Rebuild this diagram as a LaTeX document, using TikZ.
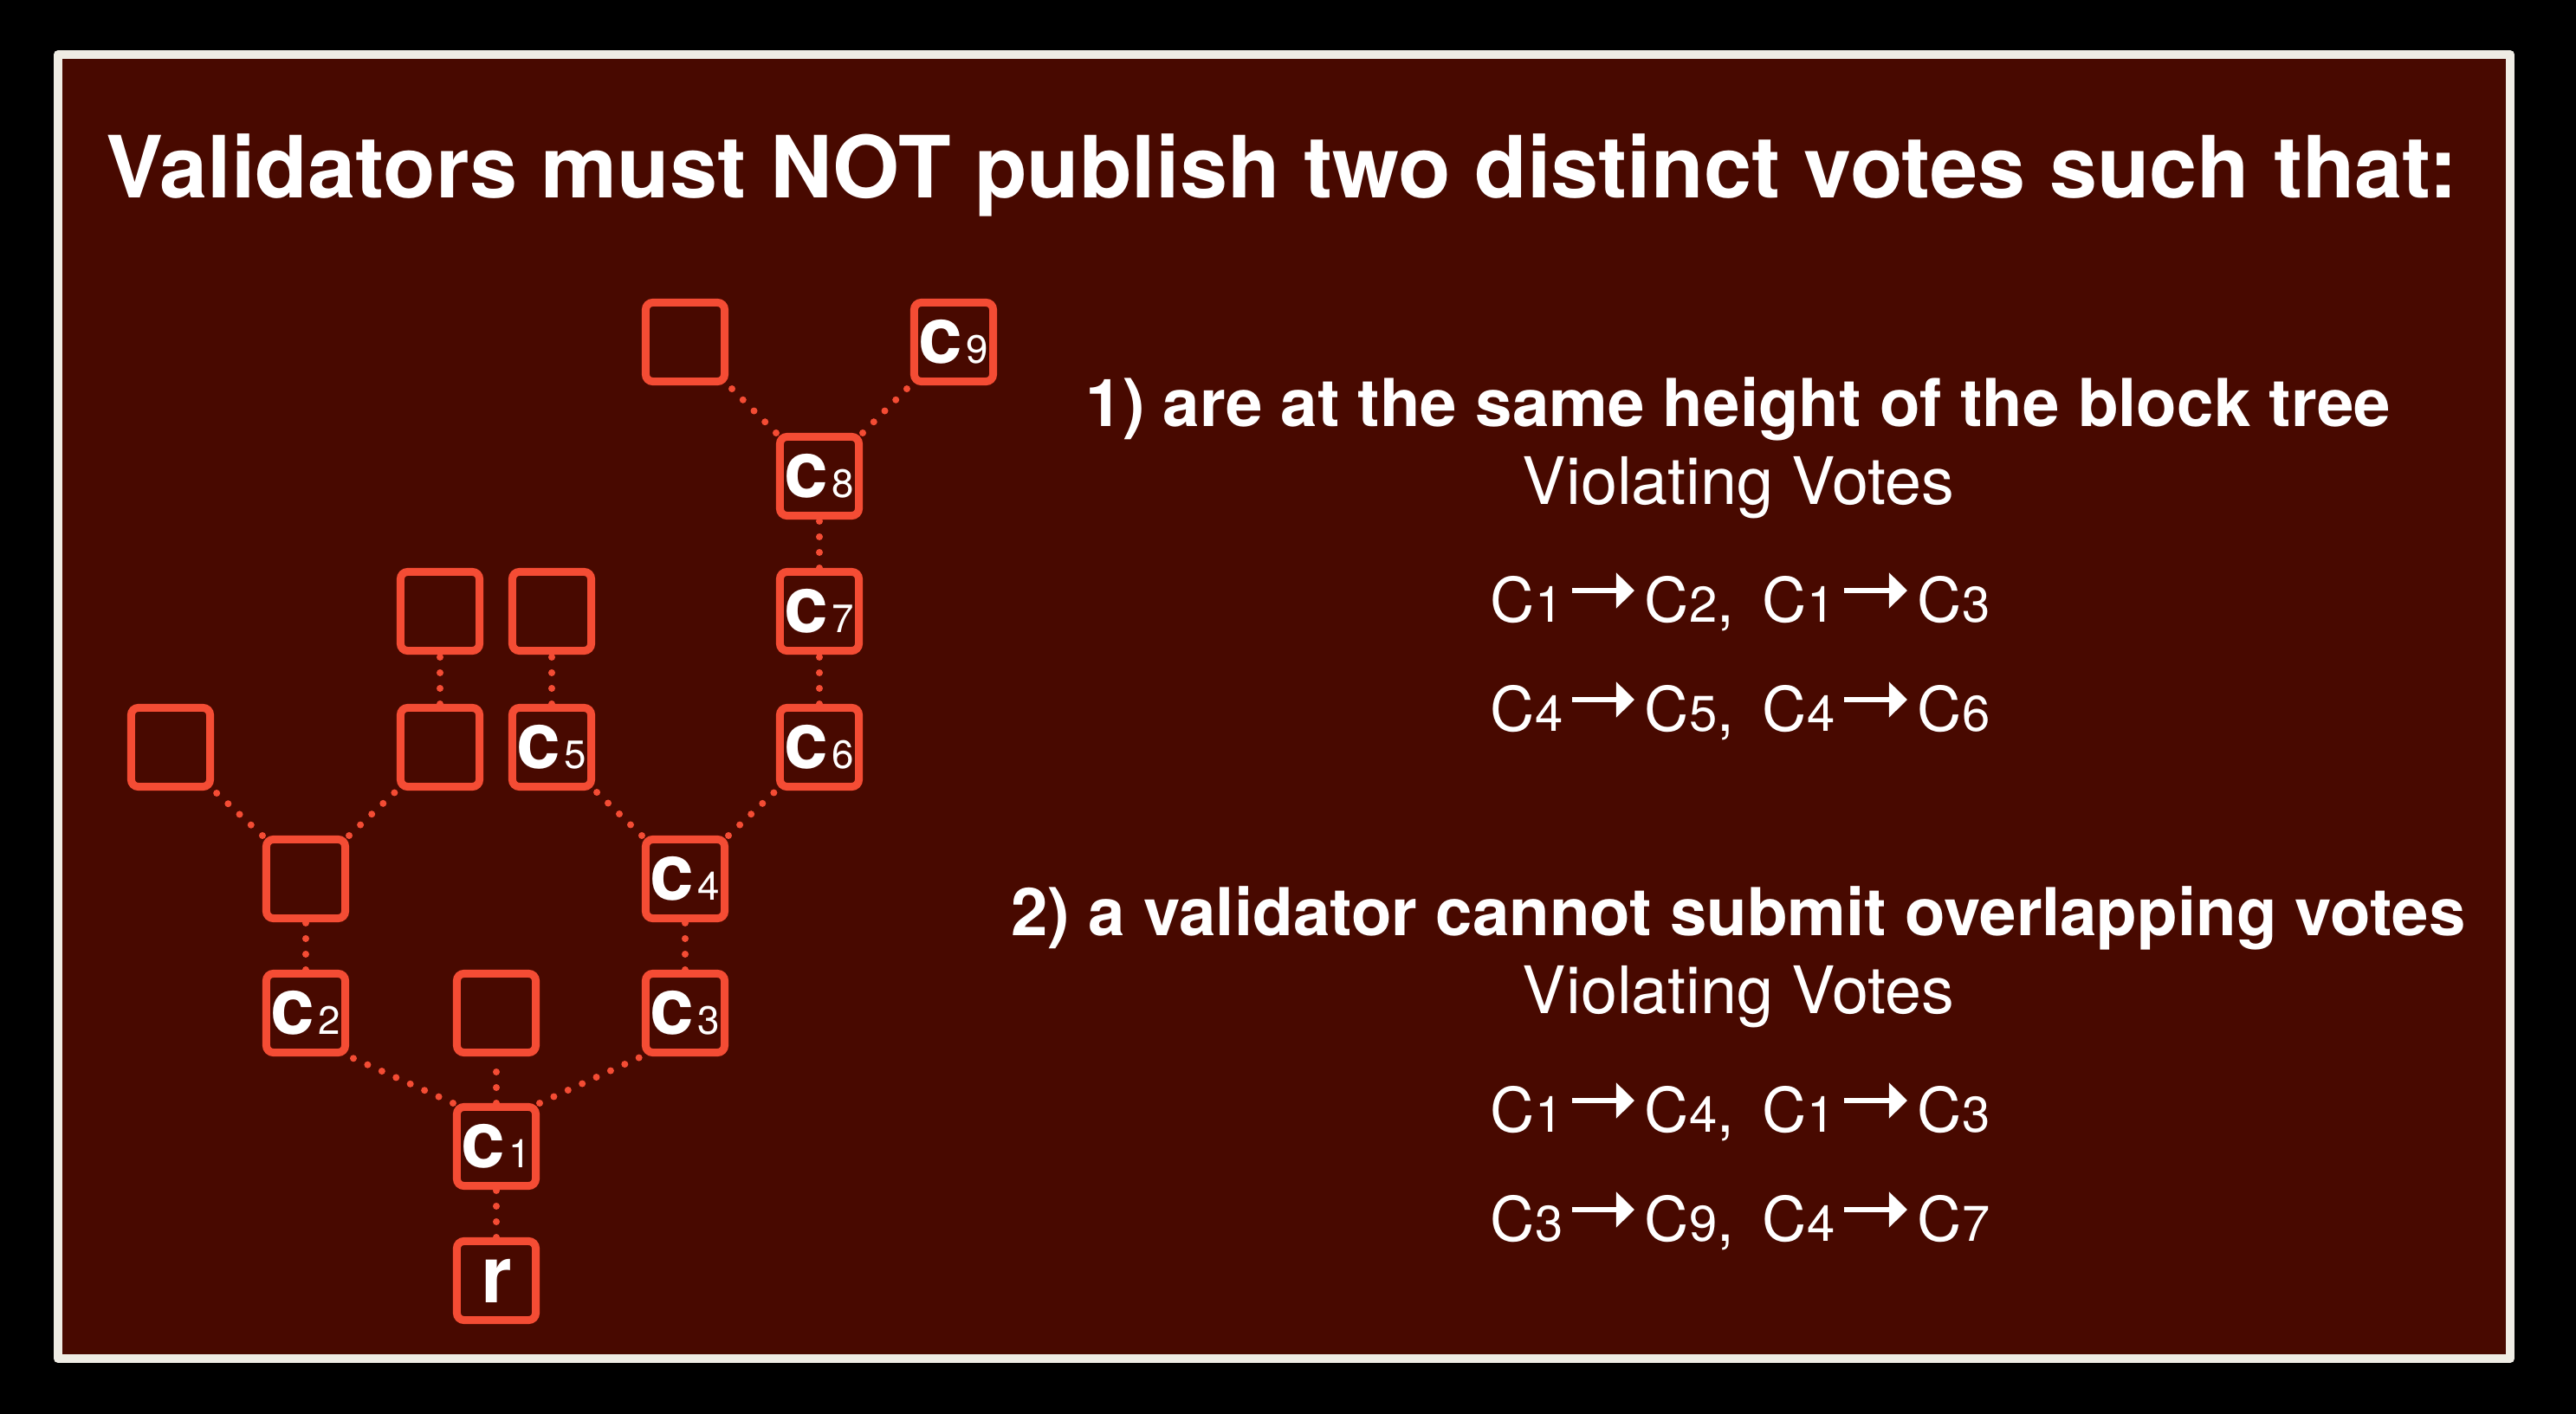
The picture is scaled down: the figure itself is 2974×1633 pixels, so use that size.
\documentclass[tikz,border=0pt]{standalone}
\usepackage{fontspec}
\setmainfont{TeX Gyre Heros}
\usetikzlibrary{arrows.meta}

\definecolor{bgred}{RGB}{72,9,0}
\definecolor{blockred}{RGB}{244,76,52}
\definecolor{framegray}{RGB}{239,236,228}

% block label: bold c with a small regular digit
\newcommand{\blk}[1]{c\kern0.04cm{\fontsize{13}{13}\selectfont\mdseries #1}}
% vote label: C with a smaller digit
\newcommand{\vt}[1]{C{\fontsize{16.5}{16}\selectfont #1}}

\begin{document}
\begin{tikzpicture}[x=0.01cm, y=-0.01cm,
  block/.style={draw=blockred, line width=0.09cm, rounded corners=0.08cm,
    minimum size=0.91cm, inner sep=0pt, text=white,
    font=\fontsize{26}{26}\selectfont\bfseries},
  link/.style={draw=blockred, line width=0.08cm, line cap=round,
    dash pattern=on 0pt off 0.18cm},
  headline/.style={text=white, anchor=base, font=\fontsize{28.2}{30}\selectfont\bfseries},
  rule/.style={text=white, anchor=base, font=\fontsize{21.7}{22}\selectfont\bfseries},
  viol/.style={text=white, anchor=base, font=\fontsize{21.5}{22}\selectfont},
  vote/.style={text=white, inner sep=0pt, anchor=base west, font=\fontsize{20.2}{22}\selectfont},
  votearrow/.style={white, line width=0.055cm, shorten <=0.1cm, shorten >=0.11cm,
    -{Triangle[length=0.21cm, width=0.4cm]}}]

  % background and frame
  \fill[black] (0,0) rectangle (2974,1633);
  \draw[framegray, fill=bgred, line width=0.1cm, line join=round] (67,63) rectangle (2898,1569);

  \node[headline] (title) at (1480,228) {Validators must NOT publish two distinct votes such that:};

  % block tree
  \node[block] (r)  at (573,1479) {r};
  \node[block] (c1) at (573,1324) {\blk{1}};
  \node[block] (c2) at (353,1170) {\blk{2}};
  \node[block] (e1) at (573,1170) {};
  \node[block] (c3) at (791,1170) {\blk{3}};
  \node[block] (e2) at (353,1015) {};
  \node[block] (c4) at (791,1015) {\blk{4}};
  \node[block] (e3) at (197,863) {};
  \node[block] (e4) at (508,863) {};
  \node[block] (c5) at (637,863) {\blk{5}};
  \node[block] (c6) at (946,863) {\blk{6}};
  \node[block] (e5) at (508,706) {};
  \node[block] (e6) at (637,706) {};
  \node[block] (c7) at (946,706) {\blk{7}};
  \node[block] (c8) at (946,550) {\blk{8}};
  \node[block] (e7) at (791,395) {};
  \node[block] (c9) at (1101,395) {\blk{9}};

  \draw[link] (r) -- (c1);
  \draw[link] (c1.north west) -- (c2.south east);
  \draw[link] (c1) -- (e1);
  \draw[link] (c1.north east) -- (c3.south west);
  \draw[link] (c2) -- (e2);
  \draw[link] (e2.north west) -- (e3.south east);
  \draw[link] (e2.north east) -- (e4.south west);
  \draw[link] (e4) -- (e5);
  \draw[link] (c3) -- (c4);
  \draw[link] (c4.north west) -- (c5.south east);
  \draw[link] (c4.north east) -- (c6.south west);
  \draw[link] (c5) -- (e6);
  \draw[link] (c6) -- (c7);
  \draw[link] (c7) -- (c8);
  \draw[link] (c8.north west) -- (e7.south east);
  \draw[link] (c8.north east) -- (c9.south west);

  % the two rules
  \node[rule] (rule1) at (2007,492) {1) are at the same height of the block tree};
  \node[viol] (viol1) at (2007,582) {Violating Votes};
  \node[rule] (rule2) at (2007,1080) {2) a validator cannot submit overlapping votes};
  \node[viol] (viol2) at (2007,1170) {Violating Votes};

  % violating vote pairs
  \foreach \y/\a/\b/\c/\d [count=\i] in {718/1/2/1/3, 844/4/5/4/6, 1307/1/4/1/3, 1433/3/9/4/7} {
    \node[vote] (v\i a) at (1720,\y) {\vt{\a}};
    \node[vote] (v\i b) at (1898,\y) {\vt{\b},};
    \node[vote] (v\i c) at (2034,\y) {\vt{\c}};
    \node[vote] (v\i d) at (2213,\y) {\vt{\d}};
    \draw[votearrow] ([yshift=0.36cm]v\i a.base east) -- ([yshift=0.36cm]v\i b.base west);
    \draw[votearrow] ([yshift=0.36cm]v\i c.base east) -- ([yshift=0.36cm]v\i d.base west);
  }
\end{tikzpicture}
\end{document}
